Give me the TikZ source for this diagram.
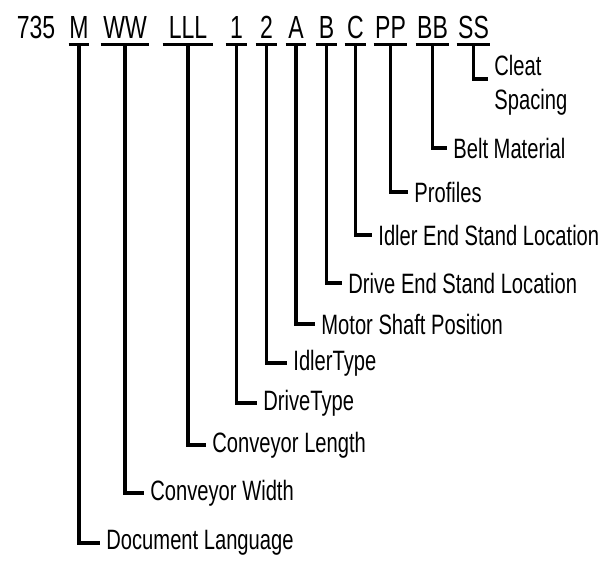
\documentclass[tikz,border=0pt]{standalone}
\usepackage{fontspec}
\setmainfont{Liberation Sans}[FakeStretch=0.72]
\usepackage{tikz}

\begin{document}
\begin{tikzpicture}[x=0.5pt, y=-0.5pt,
  code/.style={anchor=base, inner xsep=0pt, inner ysep=3pt, font=\fontsize{16}{19}\selectfont},
  field/.style={anchor=west, inner xsep=3pt, inner ysep=1pt, align=left, font=\fontsize{14}{17}\selectfont},
  uline/.style={line width=1.4pt},
  lead/.style={line width=1.8pt}]
\useasboundingbox (0,0) rectangle (608,562);
% model number
\node[code] (num) at (36,38) {735};
\node[code, minimum width=10pt] (m) at (79,38) {M};
\node[code, minimum width=24pt] (ww) at (125,38) {WW};
\node[code, minimum width=25pt] (lll) at (188,38) {LLL};
\node[code, minimum width=10.5pt] (one) at (236.5,38) {1};
\node[code, minimum width=10.5pt] (two) at (266.5,38) {2};
\node[code, minimum width=10pt] (a) at (296,38) {A};
\node[code, minimum width=10.5pt] (b) at (326.5,38) {B};
\node[code, minimum width=10.5pt] (c) at (355.5,38) {C};
\node[code, minimum width=16.5pt] (pp) at (390.5,38) {PP};
\node[code, minimum width=16.5pt] (bb) at (432.5,38) {BB};
\node[code, minimum width=16.5pt] (ss) at (473.5,38) {SS};
\foreach \n in {m,ww,lll,one,two,a,b,c,pp,bb,ss}
  \draw[uline] (\n.south west) -- (\n.south east);
% field names
\node[field] (lang) at (100,543) {Document Language};
\node[field] (width) at (144,493) {Conveyor Width};
\node[field] (length) at (206,445) {Conveyor Length};
\node[field] (drive) at (257,403) {DriveType};
\node[field] (idler) at (287,363) {IdlerType};
\node[field] (motor) at (315,324) {Motor Shaft Position};
\node[field] (driveend) at (342,283) {Drive End Stand Location};
\node[field] (idlerend) at (372,235) {Idler End Stand Location};
\node[field] (prof) at (408,192) {Profiles};
\node[field] (belt) at (447,148) {Belt Material};
\node[field] (cleat) at (488,85) {Cleat\\Spacing};
% leaders
\draw[lead] (m.south) |- (lang.west);
\draw[lead] (ww.south) |- (width.west);
\draw[lead] (lll.south) |- (length.west);
\draw[lead] (one.south) |- (drive.west);
\draw[lead] (two.south) |- (idler.west);
\draw[lead] (a.south) |- (motor.west);
\draw[lead] (b.south) |- (driveend.west);
\draw[lead] (c.south) |- (idlerend.west);
\draw[lead] (pp.south) |- (prof.west);
\draw[lead] (bb.south) |- (belt.west);
\draw[lead] (ss.south) |- ([yshift=3pt]cleat.west);
\end{tikzpicture}
\end{document}
